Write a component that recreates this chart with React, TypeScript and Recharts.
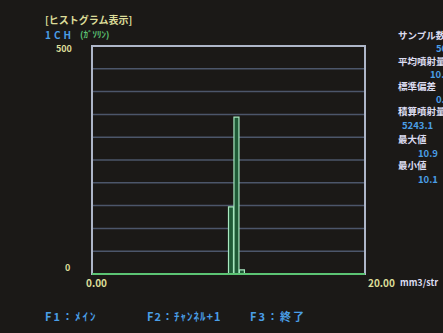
import React from "react";
import { BarChart, Bar, XAxis, YAxis, CartesianGrid, ReferenceArea, ReferenceLine } from "recharts";

const binStarts = [
  "0.0", "0.4", "0.8", "1.2", "1.6", "2.0", "2.4", "2.8", "3.2", "3.6",
  "4.0", "4.4", "4.8", "5.2", "5.6", "6.0", "6.4", "6.8", "7.2", "7.6",
  "8.0", "8.4", "8.8", "9.2", "9.6", "10.0", "10.4", "10.8", "11.2", "11.6",
  "12.0", "12.4", "12.8", "13.2", "13.6", "14.0", "14.4", "14.8", "15.2", "15.6",
  "16.0", "16.4", "16.8", "17.2", "17.6", "18.0", "18.4", "18.8", "19.2", "19.6",
];
const counts = [
  0, 0, 0, 0, 0, 0, 0, 0, 0, 0,
  0, 0, 0, 0, 0, 0, 0, 0, 0, 0,
  0, 0, 0, 0, 0, 147, 344, 9, 0, 0,
  0, 0, 0, 0, 0, 0, 0, 0, 0, 0,
  0, 0, 0, 0, 0, 0, 0, 0, 0, 0,
];
const yTicks = [0, 50, 100, 150, 200, 250, 300, 350, 400, 450, 500];
const statLabels = ["サンプル数", "平均噴射量", "標準偏差", "積算噴射量", "最大値", "最小値"];
const statValues = ["500", "10.50", "0.30", "5243.1", "10.9", "10.1"];

const data = binStarts.map((b, i) => ({ bin: b, count: counts[i] }));

const FONT = "'Noto Sans CJK JP', 'Noto Sans', sans-serif";
const YELLOW = "#dcdc98";
const BLUE = "#4a9ee6";
const GREEN = "#5cc474";
const WHITE = "#dcdcf0";

const txt = (x: number, y: number, color: string, size = 10): React.CSSProperties => ({
  position: "absolute",
  left: x,
  top: y,
  color,
  fontSize: size,
  fontWeight: 700,
  fontFamily: FONT,
  whiteSpace: "nowrap",
  lineHeight: 1,
});

export default function App() {
  const statY = [31, 57, 82, 107, 135, 161];
  const valY = [44, 70, 95, 121, 149, 175];
  const valX = [436, 430, 436, 402, 418, 418];
  return (
    <div style={{ position: "fixed", left: 0, top: 0, width: 443, height: 333, background: "#1b1917", overflow: "hidden" }}>
      <BarChart
        width={443}
        height={333}
        data={data}
        margin={{ top: 46, right: 78, bottom: 59, left: 92 }}
        barCategoryGap={0}
        barGap={0}
      >
        <CartesianGrid horizontal vertical={false} stroke="#4c566a" strokeWidth={1.5} />
        <XAxis dataKey="bin" hide />
        <YAxis hide domain={[0, 500]} ticks={yTicks} interval={0} />
        <ReferenceArea y1={0} y2={500} fill="none" stroke="#aeb6c8" strokeWidth={2} ifOverflow="extendDomain" />
        <Bar dataKey="count" fill="#1f5a36" stroke="#a8e8c0" strokeWidth={1.2} isAnimationActive={false} />
        <ReferenceLine y={0} stroke={GREEN} strokeWidth={2} />
      </BarChart>

      <div style={txt(45, 15, YELLOW, 10)}>[ヒストグラム表示]</div>
      <div style={{ ...txt(45, 30, BLUE, 10), letterSpacing: 3 }}>1CH</div>
      <div style={txt(80, 30, GREEN, 9)}>(ｶﾞｿﾘﾝ)</div>
      <div style={txt(56, 44, YELLOW, 9)}>500</div>
      <div style={txt(65, 263, YELLOW, 9)}>0</div>
      <div style={txt(86, 278, YELLOW, 10)}>0.00</div>
      <div style={txt(368, 278, YELLOW, 10)}>20.00</div>
      <div style={txt(400, 278, WHITE, 9)}>mm3/str</div>

      {statLabels.map((s, i) => (
        <div key={s} style={txt(398, statY[i], WHITE, 9.5)}>{s}</div>
      ))}
      {statValues.map((v, i) => (
        <div key={i} style={txt(valX[i], valY[i], BLUE, 9.5)}>{v}</div>
      ))}

      <div style={{ ...txt(45, 311, BLUE, 11), letterSpacing: 2 }}>F1：ﾒｲﾝ</div>
      <div style={{ ...txt(147, 311, BLUE, 11), letterSpacing: 1 }}>F2：ﾁｬﾝﾈﾙ+1</div>
      <div style={{ ...txt(250, 311, BLUE, 11), letterSpacing: 2 }}>F3：終了</div>
    </div>
  );
}
